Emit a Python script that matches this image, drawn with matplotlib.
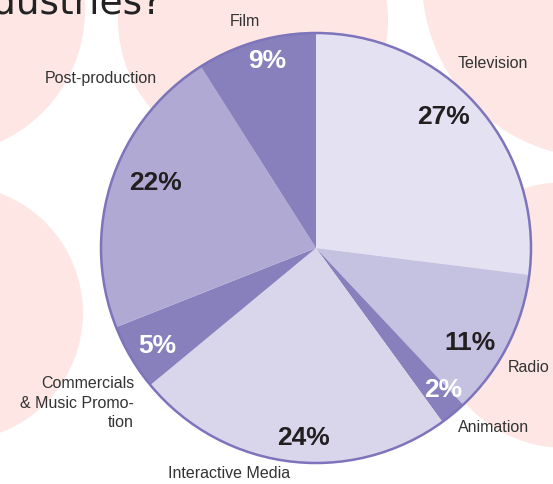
import matplotlib
matplotlib.use('Agg')
import matplotlib.pyplot as plt
from matplotlib.patches import Circle

# data
sectors = ['Television', 'Radio', 'Animation', 'Interactive Media',
           'Commercials\n& Music Promo-\ntion', 'Post-production', 'Film']
shares = [27, 11, 2, 24, 5, 22, 9]
pct_labels = ['27%', '11%', '2%', '24%', '5%', '22%', '9%']

colors = ['#e4e1f2', '#c5c1e1', '#8780bc', '#d9d5eb', '#8780bc', '#afa9d4', '#8780bc']
pct_colors = ['#231f20', '#231f20', 'white', '#231f20', 'white', '#231f20', 'white']

# layout in pixel coords (y down)
W, H = 553, 484
cx, cy, R = 316, 248, 215
name_pos = [(493, 64), (529, 368), (494, 428), (229, 474), (134, 403), (101, 78), (245, 22)]
name_ha = ['center', 'center', 'center', 'center', 'right', 'center', 'center']
pct_pos = [(444, 117), (470, 343), (443, 390), (304, 438), (157, 346), (155, 183), (267, 61)]

pink = '#fde6e3'
blobs = [((-60, 10), 145), ((253, 20), 135), ((600, -20), 178),
         ((-45, 313), 128), ((565, 315), 133)]

fig = plt.figure(figsize=(W / 100, H / 100), dpi=100)
ax = fig.add_axes([0, 0, 1, 1])

for (bx, by), br in blobs:
    ax.add_patch(Circle((bx, by), br, color=pink, lw=0, zorder=0))

# y axis is flipped, so -90 is the top and counterclock runs clockwise on screen
ax.pie(shares, colors=colors, startangle=-90, counterclock=True,
       center=(cx, cy), radius=R, frame=True,
       wedgeprops=dict(linewidth=0, zorder=2))
ax.set_xlim(0, W)
ax.set_ylim(H, 0)
ax.set_aspect('equal')
ax.axis('off')
ax.add_patch(Circle((cx, cy), R, fill=False, ec='#7d74bb', lw=1.8, zorder=3))

for name, (x, y), ha in zip(sectors, name_pos, name_ha):
    ax.text(x, y, name, ha=ha, va='center', multialignment=ha,
            fontsize=11.5, family='Liberation Sans', color='#333333',
            linespacing=1.35, zorder=4)

for lab, (x, y), c in zip(pct_labels, pct_pos, pct_colors):
    ax.text(x, y, lab, ha='center', va='center', fontsize=19,
            family='Liberation Sans', weight='bold', color=c, zorder=4)

# handwritten heading, mostly cut off by the top edge
ax.text(163, 13, 'industries?', ha='right', va='baseline', fontsize=27,
        family='DejaVu Sans', color='#222222', zorder=1)

fig.savefig('out.png', dpi=100)
